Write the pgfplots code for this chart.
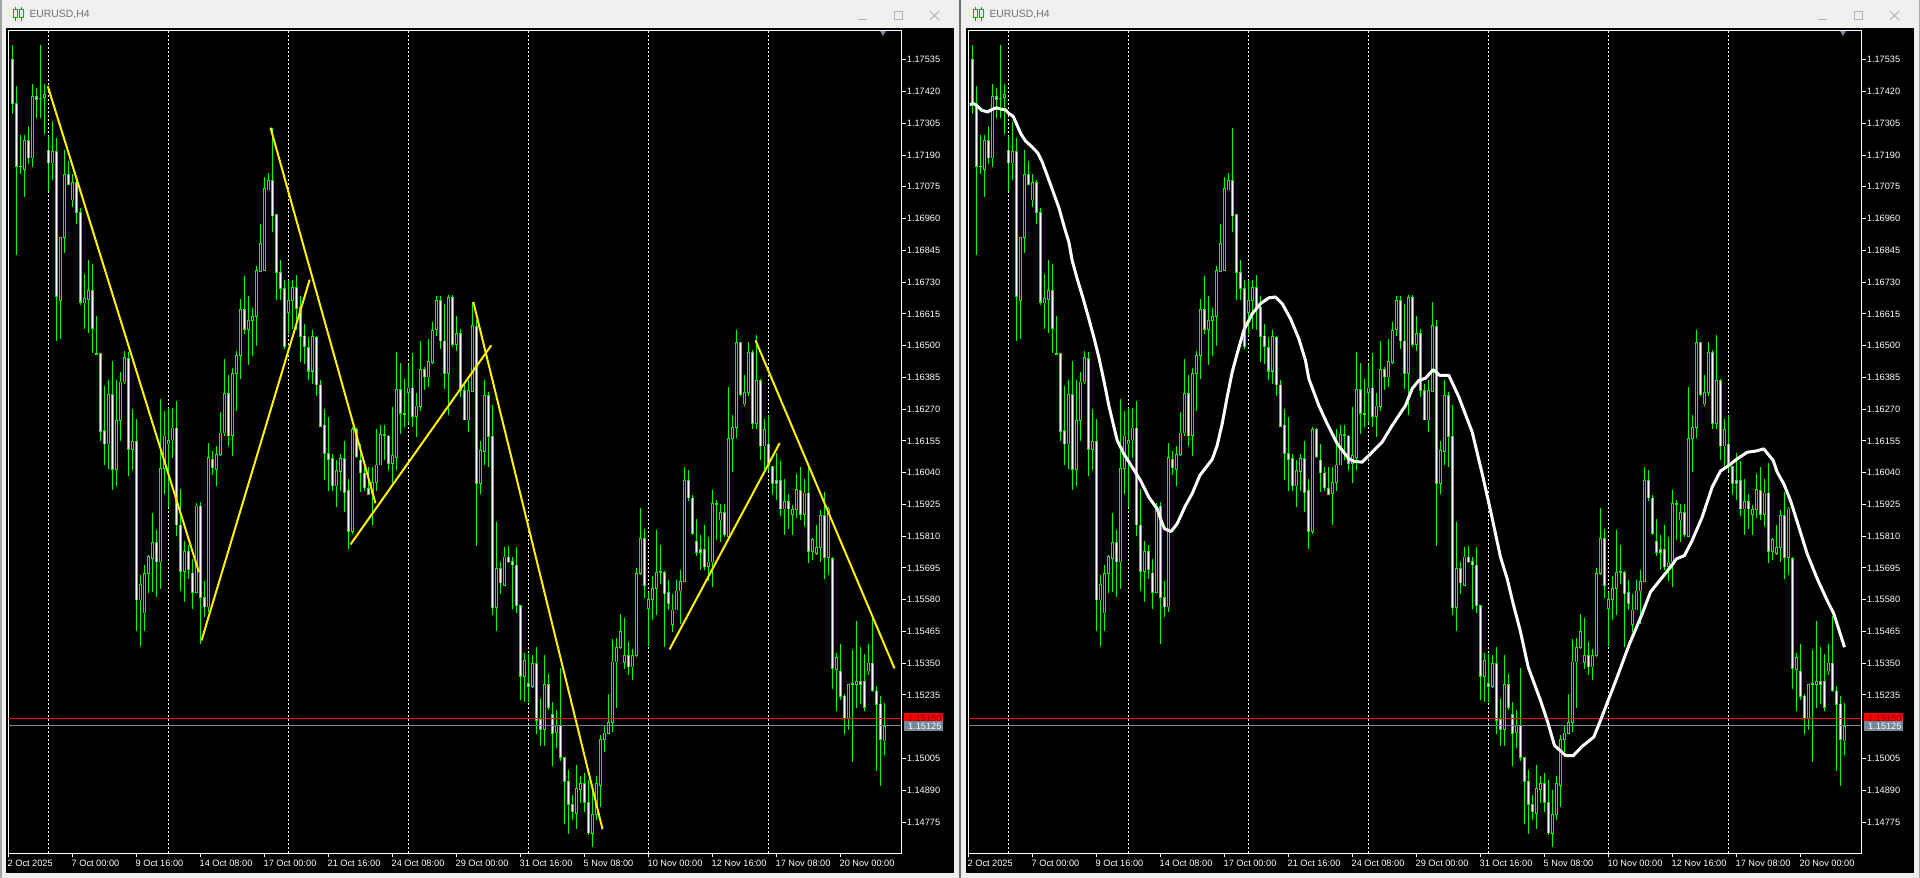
\documentclass[border=0pt]{standalone}
\usepackage{fontspec}
\setmainfont{Liberation Sans}
\usepackage{pgfplots}
\usepackage{pgfplotstable}
\pgfplotsset{compat=1.18}
\definecolor{cg}{HTML}{00FF00}
\definecolor{slate}{HTML}{778899}
\definecolor{chrome}{HTML}{F0F0F0}
\definecolor{ttl}{HTML}{70707A}
\definecolor{btn}{HTML}{B0B0B0}
\newcommand\fa{\fontsize{9.2}{11}\selectfont}
\pgfplotstableread{
i o h l c
0 1.17535 1.17587 1.17340 1.17376
1 1.17376 1.17439 1.16827 1.17149
2 1.17149 1.17264 1.17122 1.17146
3 1.17137 1.17261 1.17038 1.17242
4 1.17242 1.17294 1.17156 1.17180
5 1.17180 1.17446 1.17146 1.17401
6 1.17401 1.17431 1.17325 1.17390
7 1.17396 1.17587 1.17325 1.17394
8 1.17398 1.17446 1.17267 1.17408
9 1.17209 1.17258 1.17060 1.17162
10 1.17162 1.17308 1.17098 1.17202
11 1.17202 1.17253 1.16516 1.16677
12 1.16662 1.16895 1.16525 1.16892
13 1.16891 1.17209 1.16835 1.17119
14 1.17119 1.17169 1.17080 1.17084
15 1.17028 1.17122 1.17002 1.17090
16 1.17090 1.17098 1.16941 1.16981
17 1.16981 1.17000 1.16646 1.16658
18 1.16655 1.16758 1.16561 1.16670
19 1.16666 1.16811 1.16545 1.16699
20 1.16699 1.16794 1.16473 1.16561
21 1.16471 1.16608 1.16468 1.16469
22 1.16471 1.16471 1.16156 1.16190
23 1.16191 1.16355 1.16066 1.16144
24 1.16144 1.16377 1.16054 1.16322
25 1.16322 1.16446 1.15978 1.16050
26 1.16050 1.16377 1.15993 1.16228
27 1.16229 1.16406 1.16156 1.16368
28 1.16368 1.16480 1.16362 1.16456
29 1.16452 1.16476 1.16027 1.16123
30 1.16123 1.16271 1.16048 1.16152
31 1.16152 1.16235 1.15466 1.15579
32 1.15579 1.15670 1.15414 1.15634
33 1.15532 1.15706 1.15466 1.15674
34 1.15676 1.15742 1.15605 1.15736
35 1.15731 1.15894 1.15607 1.15789
36 1.15789 1.15833 1.15589 1.15717
37 1.15717 1.16308 1.15617 1.16057
38 1.16057 1.16263 1.15963 1.16173
39 1.16144 1.16275 1.15915 1.16156
40 1.16159 1.16275 1.16092 1.16202
41 1.16202 1.16298 1.15812 1.15851
42 1.15851 1.15981 1.15613 1.15683
43 1.15683 1.15791 1.15571 1.15753
44 1.15753 1.15779 1.15655 1.15689
45 1.15677 1.15728 1.15547 1.15607
46 1.15607 1.15929 1.15605 1.15920
47 1.15920 1.15934 1.15420 1.15589
48 1.15589 1.15649 1.15517 1.15553
49 1.15553 1.16148 1.15537 1.16094
50 1.16089 1.16120 1.16030 1.16060
51 1.16050 1.16138 1.15991 1.16104
52 1.16104 1.16260 1.16102 1.16184
53 1.16183 1.16452 1.16174 1.16325
54 1.16325 1.16392 1.16135 1.16173
55 1.16176 1.16419 1.16102 1.16400
56 1.16400 1.16480 1.16265 1.16464
57 1.16465 1.16670 1.16379 1.16630
58 1.16630 1.16753 1.16543 1.16559
59 1.16559 1.16681 1.16428 1.16591
60 1.16589 1.16637 1.16462 1.16606
61 1.16606 1.16789 1.16497 1.16771
62 1.16769 1.16941 1.16766 1.16869
63 1.16771 1.17110 1.16770 1.17068
64 1.17064 1.17125 1.17062 1.17097
65 1.17097 1.17289 1.16911 1.16969
66 1.16974 1.16974 1.16664 1.16764
67 1.16764 1.16811 1.16664 1.16706
68 1.16706 1.16739 1.16489 1.16498
69 1.16618 1.16739 1.16543 1.16662
70 1.16662 1.16739 1.16561 1.16710
71 1.16710 1.16754 1.16555 1.16634
72 1.16640 1.16678 1.16440 1.16533
73 1.16535 1.16579 1.16434 1.16498
74 1.16495 1.16531 1.16377 1.16408
75 1.16408 1.16555 1.16362 1.16533
76 1.16529 1.16533 1.16316 1.16357
77 1.16358 1.16377 1.16205 1.16208
78 1.16213 1.16271 1.16015 1.16110
79 1.16108 1.16243 1.15973 1.16089
80 1.16090 1.16108 1.15975 1.15991
81 1.15991 1.16084 1.15917 1.16046
82 1.16044 1.16108 1.15973 1.16090
83 1.16090 1.16156 1.15897 1.15969
84 1.15974 1.16018 1.15763 1.15828
85 1.15828 1.16205 1.15818 1.16195
86 1.16195 1.16202 1.16094 1.16096
87 1.16086 1.16144 1.15969 1.16038
88 1.16038 1.16062 1.15973 1.15985
89 1.15984 1.16062 1.15960 1.15962
90 1.15963 1.16060 1.15849 1.16005
91 1.16005 1.16199 1.15973 1.16068
92 1.16068 1.16213 1.16066 1.16177
93 1.16177 1.16213 1.16084 1.16174
94 1.16173 1.16178 1.16048 1.16074
95 1.16074 1.16279 1.16002 1.16101
96 1.16094 1.16476 1.16048 1.16340
97 1.16340 1.16436 1.16180 1.16255
98 1.16253 1.16380 1.16205 1.16250
99 1.16331 1.16430 1.16219 1.16347
100 1.16347 1.16474 1.16205 1.16243
101 1.16243 1.16328 1.16168 1.16281
102 1.16279 1.16515 1.16265 1.16412
103 1.16412 1.16422 1.16340 1.16386
104 1.16386 1.16523 1.16349 1.16441
105 1.16440 1.16586 1.16434 1.16555
106 1.16557 1.16678 1.16533 1.16662
107 1.16662 1.16681 1.16486 1.16516
108 1.16516 1.16649 1.16343 1.16400
109 1.16400 1.16685 1.16250 1.16673
110 1.16673 1.16685 1.16494 1.16506
111 1.16506 1.16609 1.16480 1.16543
112 1.16543 1.16561 1.16313 1.16337
113 1.16337 1.16362 1.16229 1.16231
114 1.16231 1.16374 1.16186 1.16337
115 1.16335 1.16657 1.16331 1.16572
116 1.16569 1.16591 1.15774 1.16002
117 1.16002 1.16153 1.15963 1.16120
118 1.16118 1.16374 1.16066 1.16319
119 1.16319 1.16331 1.16062 1.16171
120 1.16171 1.16285 1.15526 1.15550
121 1.15550 1.15862 1.15468 1.15692
122 1.15692 1.15718 1.15599 1.15640
123 1.15631 1.15772 1.15628 1.15735
124 1.15735 1.15776 1.15713 1.15716
125 1.15719 1.15734 1.15547 1.15706
126 1.15706 1.15770 1.15532 1.15558
127 1.15558 1.15561 1.15215 1.15302
128 1.15302 1.15387 1.15211 1.15359
129 1.15275 1.15384 1.15211 1.15267
130 1.15267 1.15378 1.15260 1.15348
131 1.15348 1.15410 1.15092 1.15142
132 1.15146 1.15222 1.15049 1.15110
133 1.15110 1.15379 1.15049 1.15272
134 1.15272 1.15310 1.15182 1.15189
135 1.15164 1.15208 1.14977 1.15095
136 1.15098 1.15180 1.15044 1.15125
137 1.15126 1.15334 1.14996 1.15007
138 1.15008 1.15011 1.14767 1.14920
139 1.14921 1.14965 1.14731 1.14838
140 1.14838 1.14872 1.14784 1.14815
141 1.14805 1.14980 1.14751 1.14896
142 1.14892 1.14941 1.14845 1.14914
143 1.14914 1.14954 1.14811 1.14845
144 1.14845 1.14928 1.14727 1.14735
145 1.14733 1.14890 1.14685 1.14802
146 1.14803 1.14941 1.14784 1.14914
147 1.14907 1.15089 1.14829 1.15073
148 1.15073 1.15128 1.15029 1.15097
149 1.15095 1.15237 1.15093 1.15135
150 1.15135 1.15439 1.15101 1.15355
151 1.15355 1.15443 1.15188 1.15406
152 1.15406 1.15527 1.15402 1.15463
153 1.15353 1.15515 1.15330 1.15377
154 1.15377 1.15426 1.15306 1.15336
155 1.15336 1.15402 1.15291 1.15378
156 1.15378 1.15696 1.15372 1.15674
157 1.15674 1.15912 1.15670 1.15801
158 1.15801 1.15837 1.15586 1.15632
159 1.15547 1.15607 1.15414 1.15580
160 1.15580 1.15664 1.15507 1.15620
161 1.15620 1.15831 1.15523 1.15680
162 1.15680 1.15779 1.15638 1.15682
163 1.15678 1.15684 1.15408 1.15601
164 1.15605 1.15650 1.15541 1.15565
165 1.15490 1.15601 1.15463 1.15543
166 1.15543 1.15650 1.15541 1.15611
167 1.15611 1.15686 1.15493 1.15647
168 1.15647 1.16060 1.15644 1.16012
169 1.16012 1.16050 1.15939 1.15949
170 1.15949 1.15958 1.15816 1.15819
171 1.15792 1.15873 1.15740 1.15752
172 1.15761 1.15816 1.15686 1.15752
173 1.15761 1.15849 1.15686 1.15698
174 1.15700 1.15807 1.15647 1.15716
175 1.15716 1.15978 1.15626 1.15927
176 1.15927 1.15942 1.15795 1.15925
177 1.15869 1.15927 1.15789 1.15895
178 1.15895 1.15927 1.15807 1.15816
179 1.15810 1.16350 1.15807 1.16163
180 1.16164 1.16247 1.16042 1.16203
181 1.16205 1.16555 1.16166 1.16510
182 1.16510 1.16513 1.16316 1.16322
183 1.16289 1.16392 1.16283 1.16332
184 1.16332 1.16513 1.16316 1.16477
185 1.16477 1.16483 1.16199 1.16217
186 1.16217 1.16537 1.16199 1.16374
187 1.16374 1.16380 1.16084 1.16136
188 1.16136 1.16235 1.16054 1.16195
189 1.16144 1.16249 1.16046 1.16065
190 1.16061 1.16061 1.15962 1.16002
191 1.16013 1.16112 1.15942 1.16002
192 1.16013 1.16082 1.15882 1.15909
193 1.15909 1.16018 1.15815 1.15935
194 1.15935 1.15962 1.15835 1.15909
195 1.15889 1.15922 1.15815 1.15905
196 1.15905 1.16036 1.15875 1.15977
197 1.15974 1.16062 1.15867 1.15889
198 1.15889 1.16018 1.15846 1.15967
199 1.15967 1.16076 1.15712 1.15753
200 1.15755 1.15802 1.15722 1.15799
201 1.15749 1.15849 1.15742 1.15769
202 1.15769 1.15906 1.15718 1.15886
203 1.15886 1.15971 1.15654 1.15733
204 1.15733 1.15915 1.15668 1.15909
205 1.15728 1.15736 1.15256 1.15331
206 1.15328 1.15388 1.15177 1.15371
207 1.15321 1.15421 1.15217 1.15228
208 1.15231 1.15237 1.15094 1.15150
209 1.15150 1.15275 1.15108 1.15272
210 1.15275 1.15397 1.14994 1.15272
211 1.15273 1.15502 1.15188 1.15285
212 1.15285 1.15408 1.15201 1.15272
213 1.15285 1.15384 1.15178 1.15188
214 1.15321 1.15421 1.15308 1.15351
215 1.15351 1.15522 1.15245 1.15252
216 1.15250 1.15268 1.14961 1.15201
217 1.15203 1.15232 1.14907 1.15072
218 1.15068 1.15205 1.15017 1.15121
}\candleT
\pgfplotstableread{
i p
-0.67 1.17373
0.33 1.17376
1.33 1.17366
2.33 1.17352
3.83 1.17346
4.83 1.17355
6 1.17361
7.17 1.17356
8.17 1.17354
9.17 1.17340
10.17 1.17330
11.17 1.17297
12.17 1.17265
13.25 1.17241
14.92 1.17219
16.33 1.17197
17.42 1.17165
18.83 1.17110
20.33 1.17050
21.67 1.16996
22.83 1.16935
24.08 1.16875
24.92 1.16808
26.17 1.16742
27.67 1.16670
29.08 1.16597
30.33 1.16531
31.58 1.16458
32.83 1.16374
34.08 1.16283
35.17 1.16217
36.17 1.16157
37.83 1.16108
39.92 1.16060
42 1.16012
44.08 1.15951
46.17 1.15909
47 1.15873
48 1.15837
49.67 1.15827
51.17 1.15855
53.25 1.15921
54.92 1.15964
56.83 1.16030
59.92 1.16088
61.17 1.16139
62.42 1.16217
63.67 1.16314
64.92 1.16404
66.17 1.16471
67.83 1.16555
69.92 1.16615
72 1.16652
74.08 1.16673
75.75 1.16676
77.42 1.16652
79.5 1.16597
81.58 1.16525
83.25 1.16446
84.08 1.16380
86.58 1.16283
88.67 1.16217
91.17 1.16145
94.08 1.16090
95.33 1.16081
97.42 1.16078
99.5 1.16108
102.42 1.16151
104.92 1.16211
108.25 1.16283
109.92 1.16344
111.58 1.16374
113.25 1.16382
115.17 1.16413
116.83 1.16392
119.08 1.16392
121.58 1.16314
124.92 1.16187
127.42 1.16036
129.5 1.15903
132 1.15734
133.67 1.15656
135.17 1.15565
136.92 1.15469
138.92 1.15336
142 1.15215
143.67 1.15143
145.5 1.15052
148.25 1.15016
150.17 1.15015
152.42 1.15049
155.33 1.15083
157 1.15143
161.17 1.15300
164.08 1.15414
167.42 1.15529
169.5 1.15608
174.5 1.15698
176 1.15728
178 1.15740
179.92 1.15795
182.42 1.15879
184.92 1.15988
187 1.16046
189.08 1.16066
191.17 1.16090
193.67 1.16114
195.75 1.16118
197.83 1.16126
200.17 1.16084
201.17 1.16042
202.83 1.15999
204.5 1.15939
206.58 1.15843
208.67 1.15746
211.17 1.15656
213.67 1.15577
215.33 1.15529
218 1.15408
}\maT
% one path per layer: wicks, body outlines, white (falling) and black (rising) insides
\newcommand\buildpaths{%
 \def\pwick{}\def\pbody{}\def\pwhite{}\def\pblack{}%
 \pgfplotsforeachungrouped \r in {0,...,218}{%
  \pgfplotstablegetelem{\r}{i}\of\candleT\let\vi\pgfplotsretval
  \pgfplotstablegetelem{\r}{o}\of\candleT\let\vo\pgfplotsretval
  \pgfplotstablegetelem{\r}{h}\of\candleT\let\vh\pgfplotsretval
  \pgfplotstablegetelem{\r}{l}\of\candleT\let\vl\pgfplotsretval
  \pgfplotstablegetelem{\r}{c}\of\candleT\let\vc\pgfplotsretval
  \edef\pwick{\pwick (\vi,\vh) (\vi,\vl) (\vi,nan) }%
  \pgfmathsetmacro\bt{max(\vo,\vc)+0.000018}%
  \pgfmathsetmacro\bb{min(\vo,\vc)-0.000018}%
  \edef\pbody{\pbody (\vi,\bt) (\vi,\bb) (\vi,nan) }%
  \pgfmathsetmacro\it{max(\vo,\vc)-0.000018}%
  \pgfmathsetmacro\ib{min(\vo,\vc)+0.000018}%
  \pgfmathsetmacro\dd{\vo-\vc}%
  \ifdim\dd pt>0.00004pt \edef\pwhite{\pwhite (\vi,\it) (\vi,\ib) (\vi,nan) }\fi
  \ifdim\dd pt<-0.00004pt \edef\pblack{\pblack (\vi,\it) (\vi,\ib) (\vi,nan) }\fi
 }}
\newcommand\plotpath[2]{\edef\tmpplot{\noexpand\addplot[#1] coordinates {#2};}\tmpplot}
\newcommand\candles{%
 \plotpath{cg,line width=1pt,forget plot,unbounded coords=jump}{\pwick}
 \plotpath{cg,line width=3pt,forget plot,unbounded coords=jump}{\pbody}
 \plotpath{white,line width=1.1pt,forget plot,unbounded coords=jump}{\pwhite}
 \plotpath{black,line width=1.1pt,forget plot,unbounded coords=jump}{\pblack}
 \addplot[red,line width=1pt,forget plot] coordinates {(-1,1.15150) (222.3,1.15150)};
 \addplot[slate,line width=1pt,forget plot] coordinates {(-1,1.15125) (222.3,1.15125)};
}
\pgfplotsset{mt/.style={
  anchor=south west,scale only axis,width=893.2pt,height=823pt,
  xmin=-1,xmax=222.3,ymin=1.14661,ymax=1.17641,
  axis background/.style={fill=black},
  axis line style={white,line width=1pt},
  every tick/.style={white,line width=1pt},
  major tick length=4pt,tick align=outside,
  xtick pos=bottom,ytick pos=right,yticklabel pos=right,
  xtick={-1,15,31,47,63,79,95,111,127,143,159,175,191,207},
  xticklabels={2 Oct 2025,7 Oct 00:00,9 Oct 16:00,14 Oct 08:00,17 Oct 00:00,21 Oct 16:00,24 Oct 08:00,29 Oct 00:00,31 Oct 16:00,5 Nov 08:00,10 Nov 00:00,12 Nov 16:00,17 Nov 08:00,20 Nov 00:00},
  ytick={1.17535,1.1742,1.17305,1.1719,1.17075,1.1696,1.16845,1.1673,1.16615,1.165,1.16385,1.1627,1.16155,1.1604,1.15925,1.1581,1.15695,1.1558,1.15465,1.1535,1.15235,1.15005,1.1489,1.14775},
  yticklabels={1.17535,1.17420,1.17305,1.17190,1.17075,1.16960,1.16845,1.16730,1.16615,1.16500,1.16385,1.16270,1.16155,1.16040,1.15925,1.15810,1.15695,1.15580,1.15465,1.15350,1.15235,1.15005,1.14890,1.14775},
  xticklabel style={font=\fa,text=white,anchor=north west,inner sep=0pt,xshift=-1pt,yshift=-2pt},
  yticklabel style={font=\fa,text=white,anchor=west,inner sep=0pt,xshift=1pt},
  extra x ticks={9,39,69,99,129,159,189},
  extra x tick labels={},
  extra x tick style={grid=major,major grid style={white,line width=1pt,dash pattern=on 2pt off 2pt},major tick length=0pt},
}}
\newcommand\chromewin[1]{%
 \begin{scope}[x=1pt,y=-1pt,yshift=878pt,xshift=#1pt]
  \fill[black] (6,28) rectangle (954,873);
  % title bar icon
  \draw[green!70!black,line width=1pt] (13,10) rectangle (17,18) (19,10) rectangle (23,18)
     (15,7)--(15,10) (15,18)--(15,21) (21,7)--(21,10) (21,18)--(21,21);
  \node[anchor=west,inner sep=0pt,text=ttl,font=\fontsize{10.4}{12}\selectfont] at (29.3,15) {EURUSD,H4};
  \draw[btn,line width=1pt] (858,19.5)--(867,19.5);
  \draw[btn,line width=1pt] (894.5,11.5) rectangle (902.5,19.5);
  \draw[btn,line width=1pt] (930,11)--(939,20) (930,20)--(939,11);
  % chart icons
  \fill[white] (13.5,36.5) rectangle (27.5,46.5);
  \draw[red!80!black,line width=1pt] (13.5,36.5) rectangle (20.5,46.5);
  \draw[blue!60!cyan,line width=1pt] (20.5,36.5) rectangle (27.5,46.5);
  \draw[red!80!black,line width=.8pt] (15,39.5)--(19.5,39.5) (15,41.7)--(19.5,41.7) (15,44)--(19.5,44);
  \draw[blue!60!cyan,line width=.8pt] (21.5,39.5)--(26.5,39.5) (21.5,41.7)--(26.5,41.7) (21.5,44)--(26.5,44);
  \fill[red!75!white] (34,37) rectangle (40,47);
  \fill[white] (37,37) rectangle (41,42);
  \fill[cyan!60!blue] (42,37) rectangle (49,47);
  \fill[white] (42,37) rectangle (45,42);
  \fill[gray] (38,36) rectangle (45,39);
  \node[anchor=west,inner sep=0pt,text=white,font=\fontsize{9.5}{11}\selectfont] at (54.3,42) {EURUSD, H4:\ \ Euro vs US Dollar};
 \end{scope}}
\newcommand\chromeover[1]{%
 \begin{scope}[x=1pt,y=-1pt,yshift=878pt,xshift=#1pt]
  \fill[slate] (880,31) -- (886,31) -- (883,36) -- cycle;
  \fill[red] (904,713) rectangle (943,721);
  \fill[slate] (904,721) rectangle (943,731);
  \begin{scope}
   \clip (904,713) rectangle (943,721);
   \node[anchor=west,inner sep=0pt,text=red!45!black,font=\fa] at (908,718.5) {1.15150};
  \end{scope}
  \node[anchor=west,inner sep=0pt,text=white,font=\fa] at (908,726) {1.15125};
 \end{scope}}
\begin{document}
\buildpaths
\begin{tikzpicture}
\path[use as bounding box] (0,0) rectangle (1920pt,878pt);
\fill[chrome] (0,0) rectangle (1920pt,878pt);
\fill[gray!70] (0,0) rectangle (1.5pt,878pt);
\fill[gray!70] (1918.5pt,0) rectangle (1920pt,878pt);
\fill[black!58] (959pt,0) rectangle (961pt,878pt);
\chromewin{0}
\chromewin{960}
\begin{axis}[mt,at={(8.5pt,24.5pt)}]
\candles
\addplot[yellow,line width=2pt] coordinates {(8.83,1.17439) (46.6,1.15680)};
\addplot[yellow,line width=2pt] coordinates {(47.25,1.15432) (74.3,1.16739)};
\addplot[yellow,line width=2pt] coordinates {(64.5,1.17289) (90.75,1.15929)};
\addplot[yellow,line width=2pt] coordinates {(84.5,1.15780) (119.7,1.16501)};
\addplot[yellow,line width=2pt] coordinates {(115.2,1.16658) (147.5,1.14749)};
\addplot[yellow,line width=2pt] coordinates {(164.25,1.15400) (191.8,1.16147)};
\addplot[yellow,line width=2pt] coordinates {(185.75,1.16519) (220.5,1.15331)};
\end{axis}
\begin{axis}[mt,at={(968.5pt,24.5pt)}]
\candles
\addplot[white,line width=3pt,line join=round] table[x=i,y=p] {\maT};
\end{axis}
\chromeover{0}
\chromeover{960}
\end{tikzpicture}
\end{document}
